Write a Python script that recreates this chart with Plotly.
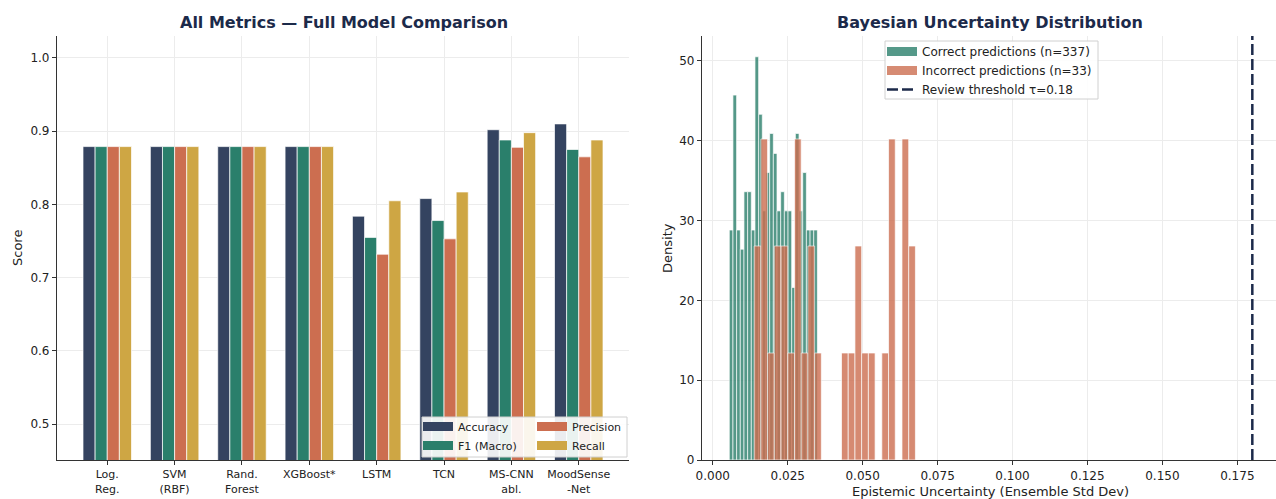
import plotly.graph_objects as go
import numpy as np

# ---------------- data ----------------
models = ["Log.<br>Reg.", "SVM<br>(RBF)", "Rand.<br>Forest", "XGBoost*", "LSTM", "TCN",
          "MS-CNN<br>abl.", "MoodSense<br>-Net"]
accuracy = [0.879, 0.879, 0.879, 0.879, 0.784, 0.808, 0.902, 0.910]
f1_macro = [0.879, 0.879, 0.879, 0.879, 0.755, 0.778, 0.888, 0.875]
precision = [0.879, 0.879, 0.879, 0.879, 0.732, 0.753, 0.878, 0.865]
recall = [0.879, 0.879, 0.879, 0.879, 0.805, 0.817, 0.898, 0.888]

# histogram densities (24 equal bins per group)
correct_bins = (0.0055, 0.0349)
correct_density = [28.8, 45.7, 28.8, 26.4, 33.6, 33.6, 28.8, 50.5, 43.3, 31.2, 36.0, 40.9,
                   38.4, 31.2, 33.6, 31.2, 31.2, 21.6, 40.9, 31.2, 36.0, 28.8, 28.8, 28.8]
incorrect_bins = (0.0138, 0.0676)
incorrect_density = [26.8, 40.2, 13.4, 26.8, 26.8, 13.4, 40.2, 13.4, 26.8, 13.4, 0, 0,
                     0, 13.4, 13.4, 26.8, 13.4, 13.4, 0, 13.4, 40.2, 0, 40.2, 26.8]
n_correct, n_incorrect = 337, 33
TAU = 0.18

# ---------------- style ----------------
W, H = 1276, 499
FONT = "DejaVu Sans"
NAVY = "#1c2a4a"
C_ACC, C_F1, C_PREC, C_REC = "#344360", "#2a7f6b", "#cc6e50", "#cea644"
GRID = "#ececec"
SPINE = "#333333"


def px_x(p):
    return p / W


def px_y(p):
    return 1 - p / H


fig = go.Figure()

metric_series = [("Accuracy", accuracy, C_ACC), ("F1 (Macro)", f1_macro, C_F1),
                 ("Precision", precision, C_PREC), ("Recall", recall, C_REC)]
for name, vals, col in metric_series:
    fig.add_trace(go.Bar(x=models, y=vals, name=name, marker=dict(color=col, line=dict(color="white", width=0.7)),
                         showlegend=False, xaxis="x", yaxis="y"))

# legend keys drawn as wide patches
legend_keys = [("Accuracy", C_ACC, "legend", 1), ("F1 (Macro)", C_F1, "legend", 2),
               ("Precision", C_PREC, "legend2", 3), ("Recall", C_REC, "legend2", 4)]
for name, col, lg, rk in legend_keys:
    fig.add_trace(go.Scatter(x=[None], y=[None], mode="lines", name=name, line=dict(color=col, width=9),
                             legend=lg, legendrank=rk, xaxis="x", yaxis="y"))


def bin_edges(rng, n):
    return np.linspace(rng[0], rng[1], n + 1)


ce = bin_edges(correct_bins, len(correct_density))
ie = bin_edges(incorrect_bins, len(incorrect_density))

fig.add_trace(go.Bar(x=ce[:-1], y=correct_density, width=np.diff(ce), offset=0,
                     marker=dict(color=C_F1, opacity=0.8, line=dict(color="white", width=0.7)),
                     showlegend=False, xaxis="x2", yaxis="y2"))
fig.add_trace(go.Bar(x=ie[:-1], y=incorrect_density, width=np.diff(ie), offset=0,
                     marker=dict(color=C_PREC, opacity=0.8, line=dict(color="white", width=0.7)),
                     showlegend=False, xaxis="x2", yaxis="y2"))
fig.add_trace(go.Scatter(x=[None], y=[None], mode="lines", name=f"Correct predictions (n={n_correct})",
                         line=dict(color="rgba(42,127,107,0.8)", width=9), legend="legend3", legendrank=1,
                         xaxis="x2", yaxis="y2"))
fig.add_trace(go.Scatter(x=[None], y=[None], mode="lines", name=f"Incorrect predictions (n={n_incorrect})",
                         line=dict(color="rgba(204,110,80,0.8)", width=9), legend="legend3", legendrank=2,
                         xaxis="x2", yaxis="y2"))

# review threshold
fig.add_shape(type="line", x0=TAU, x1=TAU, xref="x2", y0=0, y1=1, yref="y2 domain",
              line=dict(color=NAVY, width=2.5, dash="11px,4px"), layer="above",
              showlegend=True, name=f"Review threshold τ={TAU}", legend="legend3", legendrank=3)

# legend frames
fig.add_shape(type="rect", xref="paper", yref="paper", x0=px_x(422), x1=px_x(627), y0=px_y(457), y1=px_y(417),
              fillcolor="rgba(255,255,255,0.9)", line=dict(color="#d0d0d0", width=1), layer="above")
fig.add_shape(type="rect", xref="paper", yref="paper", x0=px_x(885), x1=px_x(1098), y0=px_y(99), y1=px_y(41),
              fillcolor="rgba(255,255,255,0.9)", line=dict(color="#d0d0d0", width=1), layer="above")

axis_common = dict(showline=True, linecolor=SPINE, linewidth=1.2, ticks="outside", ticklen=4, tickwidth=1,
                   tickcolor=SPINE, showgrid=True, gridcolor=GRID, gridwidth=1, zeroline=False,
                   automargin=False, tickfont=dict(family=FONT, size=12, color="#222"))

y_dom = [px_y(460), px_y(36)]
legend_common = dict(bgcolor="rgba(0,0,0,0)", borderwidth=0, font=dict(family=FONT, size=11, color="#222"),
                     xanchor="left", yanchor="top", orientation="v", tracegroupgap=0)


def label(text, x, y, size, color="#222", angle=0):
    return dict(text=text, x=px_x(x), y=px_y(y), xref="paper", yref="paper", xanchor="center",
                yanchor="middle", textangle=angle, showarrow=False,
                font=dict(family=FONT, size=size, color=color))


fig.update_layout(
    width=W, height=H, margin=dict(l=0, r=0, t=0, b=0, autoexpand=False),
    paper_bgcolor="white", plot_bgcolor="white",
    barmode="group", bargap=0.28, bargroupgap=0,
    font=dict(family=FONT, color="#222"),
    xaxis=dict(domain=[px_x(57), px_x(629)], range=[-0.746, 7.746], anchor="y",
               **{**axis_common, "tickfont": dict(family=FONT, size=11, color="#222")}),
    yaxis=dict(domain=y_dom, range=[0.451, 1.030], anchor="x", tickvals=[0.5, 0.6, 0.7, 0.8, 0.9, 1.0],
               tickformat=".1f", **axis_common),
    xaxis2=dict(domain=[px_x(702), 1.0], range=[-0.0036, 0.1879], anchor="y2",
                tickvals=[0, 0.025, 0.05, 0.075, 0.1, 0.125, 0.15, 0.175], tickformat=".3f", **axis_common),
    yaxis2=dict(domain=y_dom, range=[0, 53.1], anchor="x2", tickvals=[0, 10, 20, 30, 40, 50], **axis_common),
    legend=dict(x=px_x(418), y=px_y(412), **legend_common),
    legend2=dict(x=px_x(532), y=px_y(412), **legend_common),
    legend3=dict(x=px_x(882), y=px_y(37), **{**legend_common, "font": dict(family=FONT, size=12, color="#222")}),
    annotations=[
        label("<b>All Metrics — Full Model Comparison</b>", 344, 22, 16, NAVY),
        label("<b>Bayesian Uncertainty Distribution</b>", 990, 22, 16, NAVY),
        label("Score", 17, 248, 13, angle=-90),
        label("Density", 667, 248, 13, angle=-90),
        label("Epistemic Uncertainty (Ensemble Std Dev)", 990, 491, 13),
    ],
)

fig.write_html("out.html")
